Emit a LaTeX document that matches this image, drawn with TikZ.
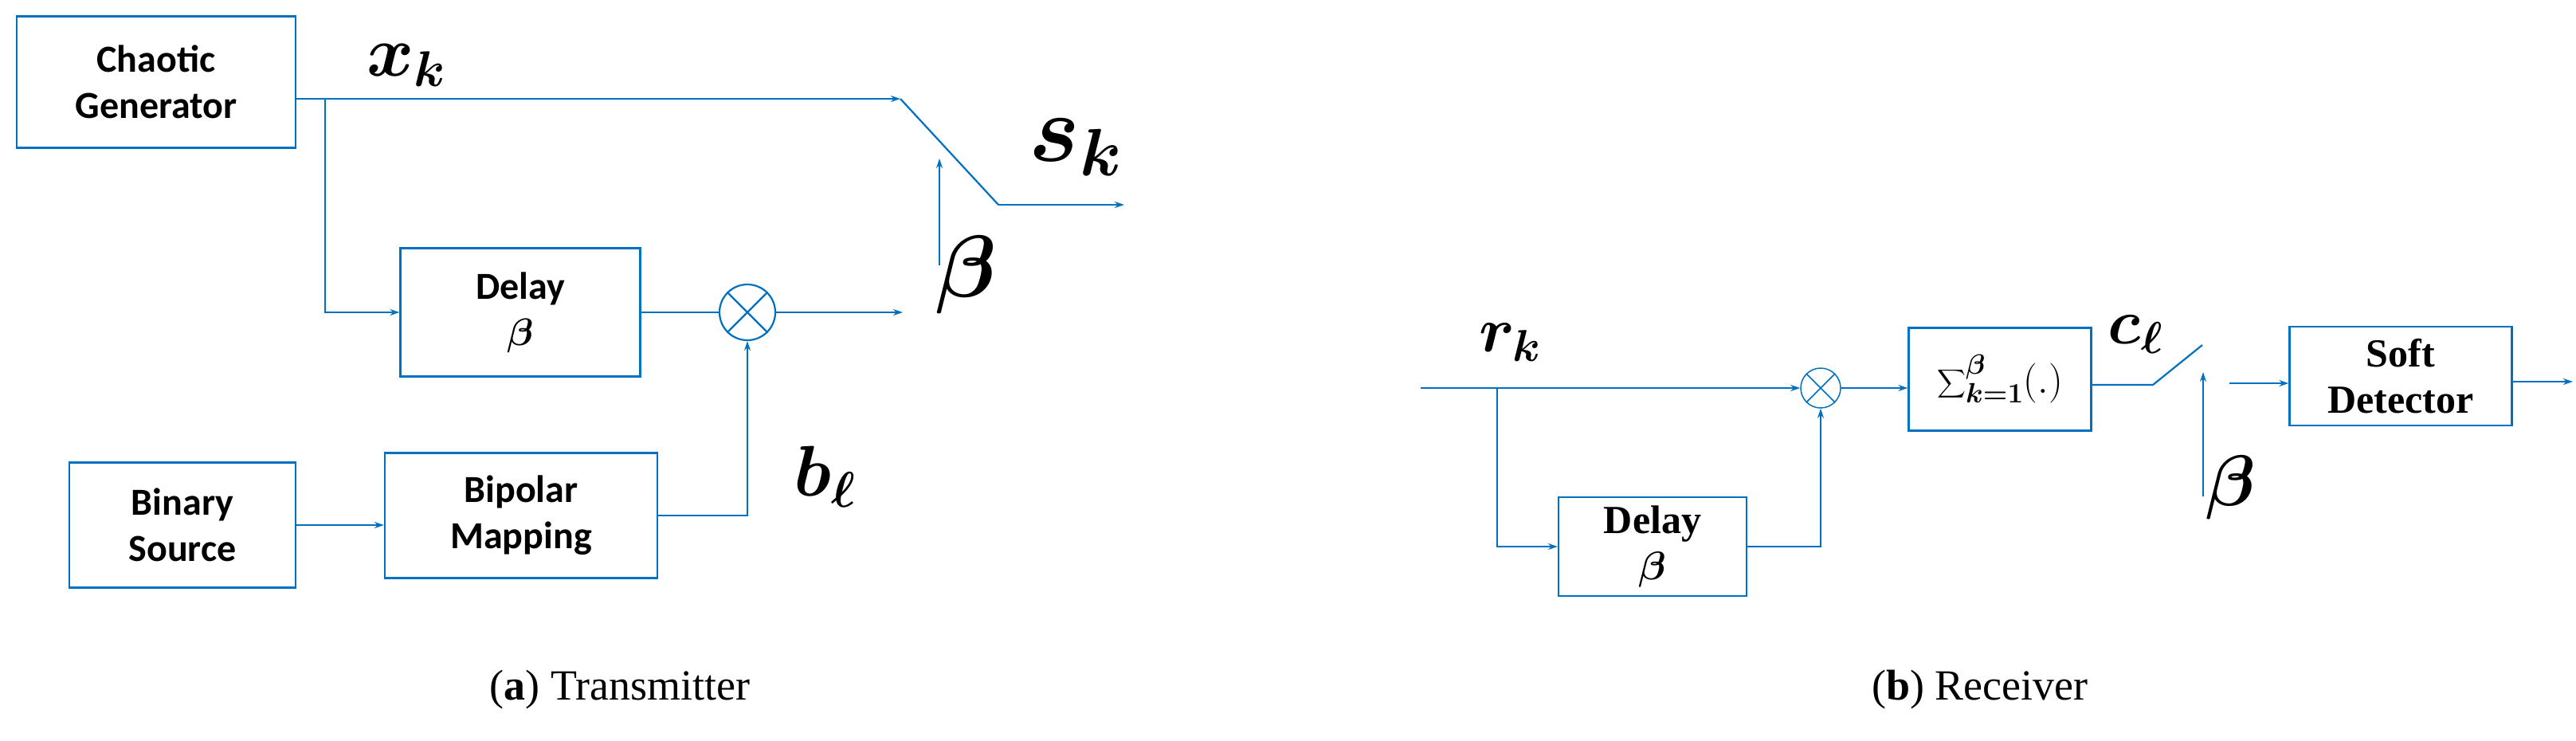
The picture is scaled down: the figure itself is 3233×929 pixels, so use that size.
\RequirePackage{fix-cm}
\documentclass[tikz,border=0pt]{standalone}
\usepackage{amsmath,bm}
\usepackage{fontspec}
\setmainfont{Liberation Serif}
\newfontfamily\carl{Carlito}
\usetikzlibrary{arrows.meta}
\definecolor{lb}{RGB}{0,112,192}
\tikzset{
  ln/.style={draw=lb,line width=2.2pt},
  ar/.style={ln,-{Stealth[length=12pt,width=8pt]}},
  tbox/.style={ln,rectangle,inner sep=0pt,align=center,font=\carl\bfseries\fontsize{48}{58}\selectfont},
  rbox/.style={ln,rectangle,inner sep=0pt,align=center,font=\bfseries\fontsize{50}{58}\selectfont},
  mul/.style={ln,circle,inner sep=0pt},
  lab/.style={inner sep=0pt}
}
\begin{document}
\begin{tikzpicture}[x=1pt,y=-1pt]
\useasboundingbox (0,0) rectangle (3233,929);
% Transmitter
\node[tbox,minimum width=350pt,minimum height=165pt] (cg) at (196,103) {Chaotic\\Generator};
\node[tbox,minimum width=301pt,minimum height=161pt] (dl) at (653,392) {Delay\\$\bm{\beta}$};
\node[tbox,minimum width=284pt,minimum height=157pt] (bs) at (229,659) {Binary\\Source};
\node[tbox,minimum width=342pt,minimum height=157pt] (bm) at (654,647) {Bipolar\\Mapping};
\node[mul,minimum size=70pt] (m1) at (938,392) {};
\draw[ln] (m1.north west)--(m1.south east) (m1.north east)--(m1.south west);
\coordinate (sa) at (1130,124);
\coordinate (sb) at (1253,257);
\coordinate (so) at (1411,257);
\coordinate (br) at (408,124);
\coordinate (mo) at (1133,392);
\coordinate (bu1) at (1179,333);
\coordinate (bu2) at (1179,199);
\draw[ar] (cg.east|-sa) -- (sa);
\draw[ln] (sa) -- (sb);
\draw[ar] (sb) -- (so);
\draw[ar] (br) |- (dl.west);
\draw[ln] (dl.east) -- (m1.west);
\draw[ar] (m1.east) -- (mo);
\draw[ar] (bs.east) -- (bm.west|-bs.east);
\draw[ar] (bm.east) -| (m1.south);
\draw[ar,line width=1.5pt] (bu1) -- (bu2);
\node[lab,font=\fontsize{90}{90}\selectfont] (xk) at (510,82) {$\bm{x_k}$};
\node[lab,font=\fontsize{120}{120}\selectfont] (sk) at (1350,185) {$\bm{s_k}$};
\node[lab,font=\fontsize{110}{110}\selectfont] (b1) at (1213,345) {$\bm{\beta}$};
\node[lab,font=\fontsize{90}{90}\selectfont] (bl) at (1035,598) {$\bm{b_\ell}$};
% Receiver
\node[rbox,minimum width=236pt,minimum height=124pt] (d2) at (2074,686) {Delay\\$\bm{\beta}$};
\node[rbox,minimum width=229pt,minimum height=129pt] (sum) at (2510,476) {};
\node[lab,font=\fontsize{50}{50}\selectfont] at (sum.center) {$\displaystyle\sum\nolimits_{\bm{k=1}}^{\bm{\beta}}(.)$};
\node[rbox,minimum width=279pt,minimum height=124pt] (sd) at (3013,472) {Soft\\Detector};
\node[mul,minimum size=50pt,line width=1.5pt] (m2) at (2285,487) {};
\draw[ln,line width=1.5pt] (m2.north west)--(m2.south east) (m2.north east)--(m2.south west);
\coordinate (r0) at (1783,487);
\coordinate (r1) at (1879,487);
\coordinate (ca) at (2702,483);
\coordinate (cb) at (2764,433);
\coordinate (cs) at (2798,481);
\coordinate (ro) at (3229,479);
\coordinate (rb1) at (2765,623);
\coordinate (rb2) at (2765,467);
\draw[ar] (r0) -- (m2.west);
\draw[ar] (r1) |- (d2.west);
\draw[ar] (d2.east) -| (m2.south);
\draw[ar] (m2.east) -- (sum.west|-m2.east);
\draw[ln] (sum.east|-ca) -- (ca) -- (cb);
\draw[ar] (cs) -- (sd.west|-cs);
\draw[ar] (sd.east|-ro) -- (ro);
\draw[ar,line width=1.5pt] (rb1) -- (rb2);
\node[lab,font=\fontsize{80}{80}\selectfont] (rk) at (1895,430) {$\bm{r_k}$};
\node[lab,font=\fontsize{80}{80}\selectfont] (cl) at (2680,420) {$\bm{c_\ell}$};
\node[lab,font=\fontsize{90}{90}\selectfont] (b2) at (2800,612) {$\bm{\beta}$};
% captions
\node[lab,font=\fontsize{54}{54}\selectfont] (ca1) at (778,866) {(\textbf{a}) Transmitter};
\node[lab,font=\fontsize{54}{54}\selectfont] (ca2) at (2485,866) {(\textbf{b}) Receiver};
\end{tikzpicture}
\end{document}
